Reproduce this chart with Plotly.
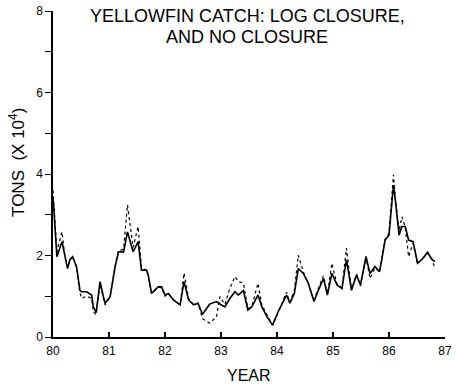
import plotly.graph_objects as go

years = [80.00, 80.07, 80.16, 80.21, 80.26, 80.30, 80.35, 80.42, 80.48, 80.51,
         80.60, 80.69, 80.72, 80.77, 80.84, 80.90, 80.93, 81.02, 81.11, 81.17,
         81.26, 81.33, 81.43, 81.52, 81.58, 81.67, 81.70, 81.76, 81.79, 81.88,
         81.94, 82.00, 82.06, 82.15, 82.27, 82.34, 82.42, 82.51, 82.59, 82.67,
         82.80, 82.92, 82.98, 83.07, 83.16, 83.25, 83.31, 83.40, 83.48, 83.55,
         83.66, 83.73, 83.82, 83.92, 84.02, 84.17, 84.23, 84.31, 84.38, 84.47,
         84.56, 84.61, 84.66, 84.74, 84.83, 84.90, 84.98, 85.07, 85.16, 85.24,
         85.33, 85.42, 85.49, 85.59, 85.66, 85.75, 85.83, 85.87, 85.93, 86.00,
         86.05, 86.08, 86.12, 86.18, 86.23, 86.29, 86.35, 86.43, 86.51, 86.58,
         86.69, 86.76, 86.82]

log_closure = [3.45, 1.97, 2.34, 1.97, 1.68, 1.89, 1.97, 1.73, 1.15, 1.11,
               1.11, 1.03, 0.74, 0.60, 1.36, 0.99, 0.83, 0.99, 1.73, 2.09,
               2.09, 2.58, 2.09, 2.34, 1.64, 1.64, 1.52, 1.07, 1.11, 1.23,
               1.23, 1.03, 1.07, 0.91, 0.79, 1.36, 0.91, 0.79, 0.83, 0.56,
               0.81, 0.87, 0.81, 0.74, 0.95, 1.11, 1.03, 1.14, 0.66, 0.74,
               1.03, 0.74, 0.50, 0.29, 0.62, 1.03, 0.83, 1.07, 1.68, 1.56,
               1.32, 1.10, 0.87, 1.15, 1.44, 1.03, 1.56, 1.28, 1.19, 1.89,
               1.15, 1.52, 1.28, 1.97, 1.56, 1.73, 1.60, 1.89, 2.38, 2.50,
               3.28, 3.73, 3.28, 2.50, 2.71, 2.71, 2.38, 2.34, 1.81, 1.89,
               2.08, 1.91, 1.85]

no_closure = [3.60, 2.10, 2.58, 2.00, 1.70, 1.90, 1.97, 1.70, 1.10, 0.95,
              1.00, 0.95, 0.62, 0.55, 1.30, 0.90, 0.79, 0.99, 1.75, 2.12,
              2.15, 3.24, 2.20, 2.71, 1.70, 1.64, 1.52, 1.07, 1.11, 1.23,
              1.20, 1.00, 1.07, 0.91, 0.79, 1.57, 0.95, 0.79, 0.83, 0.45,
              0.34, 0.50, 0.99, 0.80, 1.20, 1.48, 1.36, 1.32, 0.70, 0.74,
              1.32, 0.78, 0.55, 0.29, 0.60, 1.10, 0.85, 1.15, 2.01, 1.60,
              1.30, 1.10, 0.90, 1.20, 1.50, 1.05, 1.81, 1.30, 1.20, 2.18,
              1.15, 1.55, 1.25, 1.97, 1.44, 1.70, 1.60, 1.90, 2.40, 2.55,
              3.40, 3.98, 3.30, 2.60, 2.95, 2.70, 1.97, 2.30, 1.80, 1.90,
              2.05, 1.95, 1.68]

y_ticks = [0, 2, 4, 6, 8]
y_labels = ["0", "2", "4", "6", "8"]
y_minor_ticks = [1, 3, 5, 7]
x_ticks = [80, 81, 82, 83, 84, 85, 86, 87]
x_labels = ["80", "81", "82", "83", "84", "85", "86", "87"]

title_lines = ["YELLOWFIN CATCH: LOG CLOSURE,", "AND NO CLOSURE"]
x_title = "YEAR"
y_title = "TONS\u00a0\u00a0(X\u00a010<sup>4</sup>)"

font = "Liberation Sans, Arial, Helvetica, sans-serif"

fig = go.Figure()
fig.add_trace(go.Scatter(x=years, y=no_closure, mode="lines",
                         line=dict(color="black", width=1.2, dash="dot"),
                         name="No closure"))
fig.add_trace(go.Scatter(x=years, y=log_closure, mode="lines",
                         line=dict(color="black", width=1.6),
                         name="Log closure"))

fig.update_layout(
    width=456, height=389,
    margin=dict(l=53, r=11, t=11, b=52, autoexpand=False),
    paper_bgcolor="white", plot_bgcolor="white",
    showlegend=False,
    font=dict(family=font, color="black", size=12),
    annotations=[
        dict(text=title_lines[0], xref="paper", yref="paper", x=0.495, y=0.986,
             xanchor="center", yanchor="middle", showarrow=False,
             font=dict(family=font, size=18, color="black")),
        dict(text=title_lines[1], xref="paper", yref="paper", x=0.495, y=0.919,
             xanchor="center", yanchor="middle", showarrow=False,
             font=dict(family=font, size=18, color="black")),
        dict(text=x_title, xref="paper", yref="paper", x=0.5, y=-0.1166,
             xanchor="center", yanchor="middle", showarrow=False,
             font=dict(family=font, size=16, color="black")),
        dict(text=y_title, xref="paper", yref="paper", x=-0.0918, y=0.534,
             xanchor="center", yanchor="middle", showarrow=False, textangle=-90,
             font=dict(family=font, size=17, color="black")),
    ],
)
fig.update_xaxes(range=[80, 87], tickvals=x_ticks, ticktext=x_labels,
                 ticks="inside", ticklen=5,
                 tickwidth=1.5, tickcolor="black", showline=True,
                 linecolor="black", linewidth=2, showgrid=False, zeroline=False,
                 tickfont=dict(size=12), automargin=False, ticklabelstandoff=2,
                 ticklabeloverflow="allow")
fig.update_yaxes(range=[0, 8], tickvals=y_ticks, ticktext=y_labels,
                 ticks="outside", ticklen=6, tickwidth=1.2, tickcolor="black",
                 minor=dict(tickvals=y_minor_ticks, ticks="outside", ticklen=6,
                            tickwidth=1.2, tickcolor="black", showgrid=False),
                 showline=True, linecolor="black", linewidth=1.5,
                 showgrid=False, zeroline=False, tickfont=dict(size=12),
                 automargin=False, ticklabeloverflow="allow")

fig.write_html("out.html", config={"displayModeBar": False},
               post_script="document.body.style.margin='0';")
